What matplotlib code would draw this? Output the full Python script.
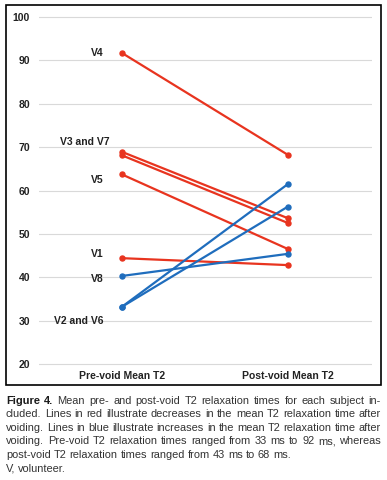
import matplotlib
matplotlib.use("Agg")
import matplotlib.pyplot as plt
from matplotlib.patches import Rectangle

subjects = ["V1", "V2", "V3", "V4", "V5", "V6", "V7", "V8"]
pre_void = [44.4, 33.2, 68.9, 91.7, 63.7, 33.2, 68.1, 40.3]
post_void = [42.8, 61.5, 53.6, 68.2, 46.5, 56.3, 52.5, 45.4]
x_labels = ["Pre-void Mean T2", "Post-void Mean T2"]
y_ticks = [20, 30, 40, 50, 60, 70, 80, 90, 100]
annotations = ["V4", "V3 and V7", "V5", "V1", "V8", "V2 and V6"]
annotation_y = [91.7, 71.1, 62.4, 45.4, 39.6, 30.0]
annotation_x = [-0.11, -0.072, -0.11, -0.11, -0.11, -0.11]

caption_lines = [
    ["Figure", "4.", "Mean", "pre-", "and", "post-void", "T2", "relaxation", "times", "for", "each", "subject", "in-"],
    ["cluded.", "Lines", "in", "red", "illustrate", "decreases", "in", "the", "mean", "T2", "relaxation", "time", "after"],
    ["voiding.", "Lines", "in", "blue", "illustrate", "increases", "in", "the", "mean", "T2", "relaxation", "time", "after"],
    ["voiding.", "Pre-void", "T2", "relaxation", "times", "ranged", "from", "33", "ms", "to", "92", "ms,", "whereas"],
    ["post-void", "T2", "relaxation", "times", "ranged", "from", "43", "ms", "to", "68", "ms."],
    ["V,", "volunteer."],
]
justified = [True, True, True, True, False, False]

RED = "#e8341f"
BLUE = "#1f6dbd"

W, H = 387, 480
fig = plt.figure(figsize=(W / 100, H / 100), dpi=100)
plt.rcParams['font.family'] = ['Liberation Sans', 'DejaVu Sans']

ax_left, ax_right = 39, 372
ax_top, ax_bot = 10, 370
ax = fig.add_axes([ax_left / W, 1 - ax_bot / H, (ax_right - ax_left) / W, (ax_bot - ax_top) / H])
ppu = (364 - 17) / 80.0
ax.set_ylim(20 - (ax_bot - 364) / ppu, 100 + (17 - ax_top) / ppu)
ax.set_xlim(-0.5, 1.506)

for pre, post in zip(pre_void, post_void):
    c = RED if post < pre else BLUE
    z = 3 if post < pre else 4
    ax.plot([0, 1], [pre, post], color=c, lw=1.6, marker="o", ms=3.6, zorder=z,
            solid_capstyle="round")

ax.set_yticks(y_ticks)
ax.set_yticklabels([str(v) for v in y_ticks], fontsize=7.5, fontweight="bold", color="#222222")
ax.set_xticks([0, 1])
ax.set_xticklabels(x_labels, fontsize=7.5, fontweight="bold", color="#222222")
ax.tick_params(axis="both", length=0)
ax.tick_params(axis="y", pad=6.5)
ax.tick_params(axis="x", pad=0.5)
ax.grid(axis="y", color="#d9d9d9", lw=0.8, zorder=0)
ax.set_axisbelow(True)
for s in ax.spines.values():
    s.set_visible(False)

for txt, xv, yv in zip(annotations, annotation_x, annotation_y):
    ax.text(xv, yv, txt, ha="right", va="center", fontsize=7.5, fontweight="bold", color="#222222")

# frame
fig.patches.append(Rectangle((6 / W, 1 - 385 / H), (381 - 6) / W, (385 - 5) / H,
                             transform=fig.transFigure, fill=False, ec="black", lw=1.2))

# caption, justified
renderer = fig.canvas.get_renderer()
cap_left, cap_right = 6, 381
line_y0, line_dy = 400.5, 13.6
cap_family = ["Liberation Sans", "DejaVu Sans"]

# choose caption size so that line 2 fits the text width with ordinary spaces
probe = fig.text(0, 0, " ".join(caption_lines[1]), fontsize=10, family=cap_family)
natural = probe.get_window_extent(renderer).width
probe.remove()
cap_fs = 10 * (cap_right - cap_left - 2) / natural

probe1 = fig.text(0, 0, "a a", fontsize=cap_fs, family=cap_family)
probe2 = fig.text(0, 0, "aa", fontsize=cap_fs, family=cap_family)
space_w = probe1.get_window_extent(renderer).width - probe2.get_window_extent(renderer).width
probe1.remove()
probe2.remove()

for i, (words, just) in enumerate(zip(caption_lines, justified)):
    y = 1 - (line_y0 + i * line_dy) / H
    texts = []
    for j, w in enumerate(words):
        bold = (i == 0 and j < 2)
        t = fig.text(0, y, w, fontsize=cap_fs, fontweight="bold" if bold else "normal",
                     color="#1a1a1a" if bold else "#333333", va="center", ha="left",
                     family=cap_family)
        texts.append(t)
    widths = [t.get_window_extent(renderer).width for t in texts]
    if just and len(words) > 1:
        gap = (cap_right - cap_left - sum(widths)) / (len(words) - 1)
    else:
        gap = space_w
    x = cap_left
    for t, wd in zip(texts, widths):
        t.set_x(x / W)
        x += wd + gap

fig.savefig("out.png", dpi=100)
